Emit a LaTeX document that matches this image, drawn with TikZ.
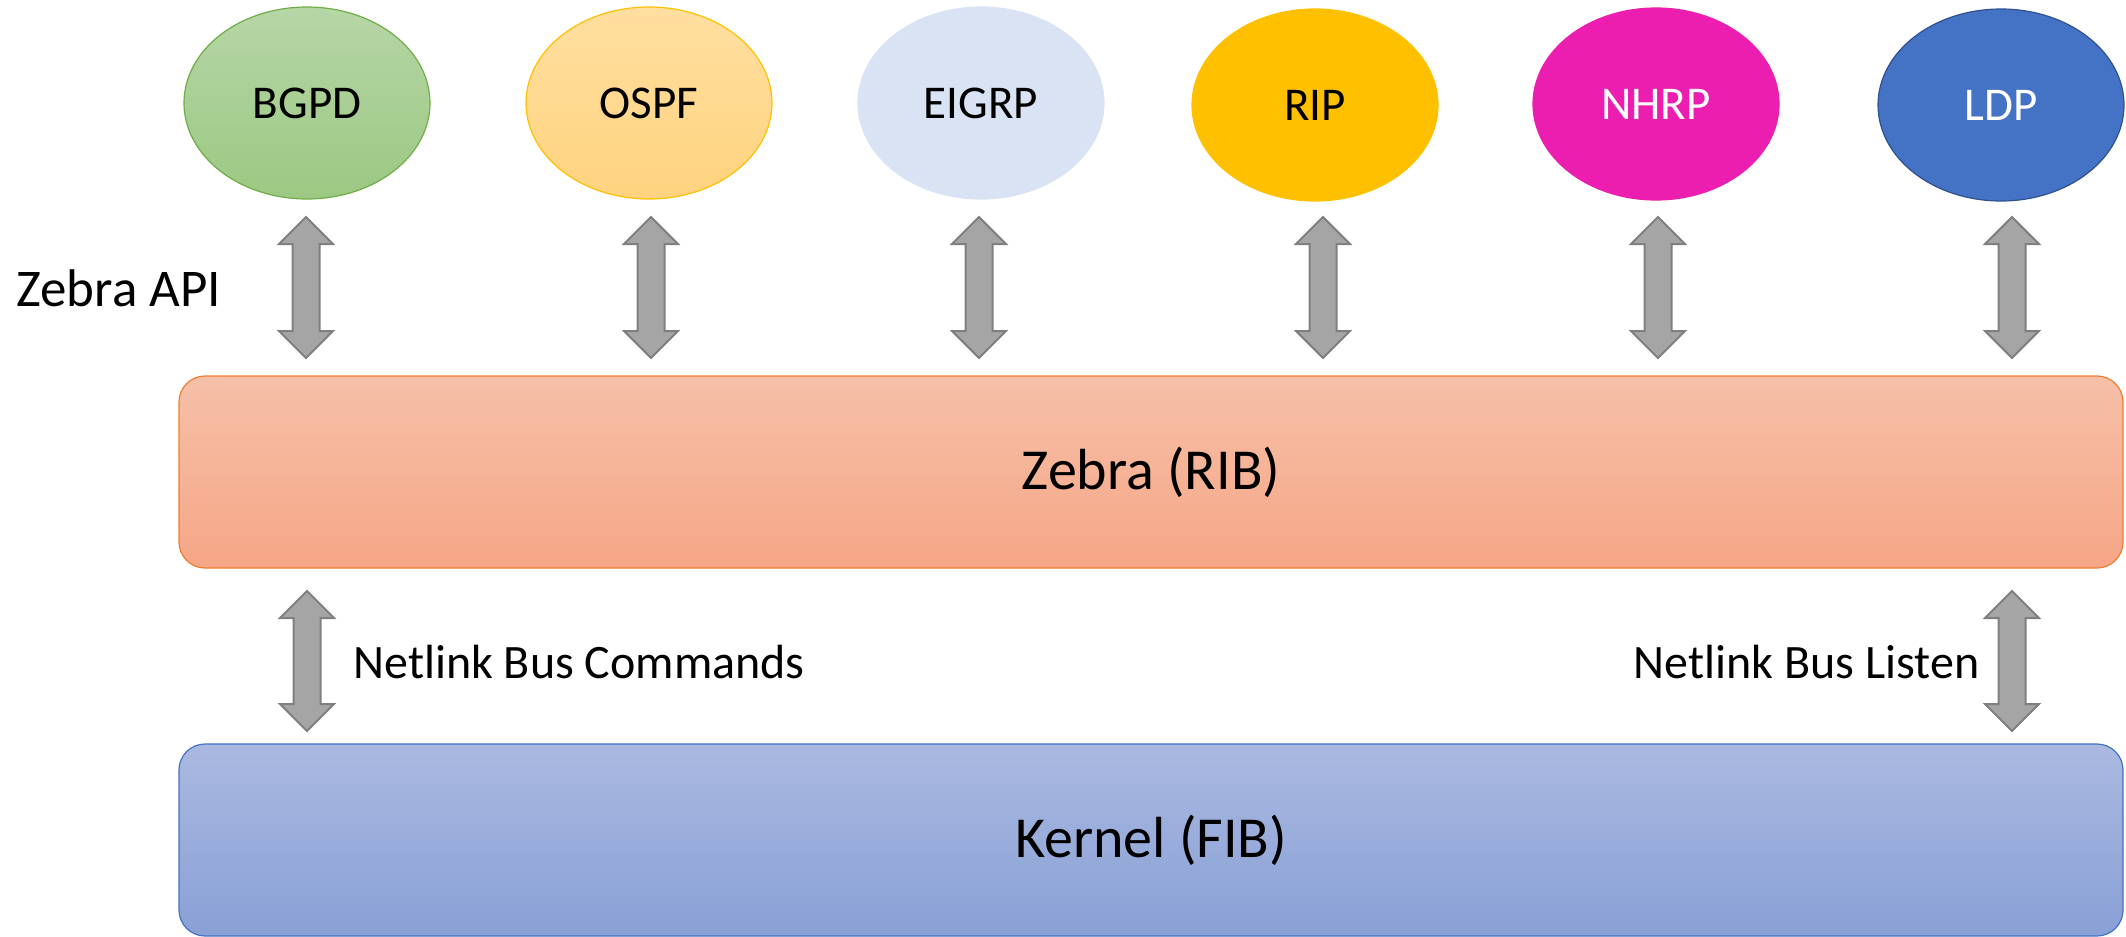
\documentclass[tikz,border=0pt]{standalone}
\usepackage{fontspec}
\setmainfont{Carlito}
\usetikzlibrary{shapes.geometric}
\definecolor{arrfill}{HTML}{A5A5A5}
\definecolor{arrline}{HTML}{7F7F7F}
\definecolor{bgpdline}{HTML}{70AD47}
\tikzset{
  proto/.style={ellipse, minimum width=123pt, minimum height=96pt, inner sep=0pt, line width=0.6pt, font=\fontsize{23.5}{28}\selectfont},
  layer/.style={rounded corners=13pt, line width=0.6pt, minimum width=972pt, minimum height=96pt, font=\fontsize{29}{34}\selectfont},
  lbl/.style={font=\fontsize{24}{29}\selectfont, inner sep=0pt},
  dblarr/.style={fill=arrfill, draw=arrline, line width=1pt, line join=miter}
}
\newcommand\updownarr[3]{%
  \draw[dblarr] (#1,#2) -- ({#1+27},{#2+27}) -- ({#1+13.5},{#2+27}) -- ({#1+13.5},{#3-27}) -- ({#1+27},{#3-27}) -- (#1,#3) -- ({#1-27},{#3-27}) -- ({#1-13.5},{#3-27}) -- ({#1-13.5},{#2+27}) -- ({#1-27},{#2+27}) -- cycle;}
\begin{document}
\begin{tikzpicture}[x=0.5pt,y=-0.5pt]
\useasboundingbox (0,0) rectangle (2126,937);
% protocol ellipses
\node[proto, draw=bgpdline, top color={rgb,255:red,182;green,214;blue,167}, bottom color={rgb,255:red,156;green,200;blue,130}] (bgpd) at (307,103) {BGPD};
\node[proto, draw={rgb,255:red,255;green,192;blue,0}, top color={rgb,255:red,255;green,223;blue,160}, bottom color={rgb,255:red,255;green,211;blue,127}] (ospf) at (649,103) {OSPF};
\node[proto, draw={rgb,255:red,218;green,227;blue,243}, fill={rgb,255:red,218;green,227;blue,243}] (eigrp) at (981,103) {EIGRP};
\node[proto, draw={rgb,255:red,255;green,192;blue,0}, fill={rgb,255:red,255;green,192;blue,0}] (rip) at (1315,105) {RIP};
\node[proto, draw={rgb,255:red,236;green,30;blue,176}, fill={rgb,255:red,236;green,30;blue,176}, text=white] (nhrp) at (1656,104) {NHRP};
\node[proto, draw={rgb,255:red,47;green,82;blue,143}, fill={rgb,255:red,68;green,114;blue,196}, text=white] (ldp) at (2001,105) {LDP};
% layers
\node[layer, draw={rgb,255:red,237;green,125;blue,49}, top color={rgb,255:red,246;green,192;blue,168}, bottom color={rgb,255:red,246;green,166;blue,134}] (zebra) at (1151,472) {Zebra (RIB)};
\node[layer, draw={rgb,255:red,68;green,114;blue,196}, top color={rgb,255:red,170;green,185;blue,224}, bottom color={rgb,255:red,137;green,160;blue,214}] (kernel) at (1151,840) {Kernel (FIB)};
% arrows
\updownarr{306}{217}{358}
\updownarr{651}{217}{358}
\updownarr{979}{217}{358}
\updownarr{1323}{217}{358}
\updownarr{1658}{217}{358}
\updownarr{2012}{217}{358}
\updownarr{307}{591}{731}
\updownarr{2012}{591}{731}
% labels
\node[lbl, anchor=west, font=\fontsize{26.5}{31}\selectfont] (api) at (16,288) {Zebra API};
\node[lbl, anchor=west] (cmds) at (353,662) {Netlink Bus Commands};
\node[lbl, anchor=east] (listen) at (1980,662) {Netlink Bus Listen};
\end{tikzpicture}
\end{document}
